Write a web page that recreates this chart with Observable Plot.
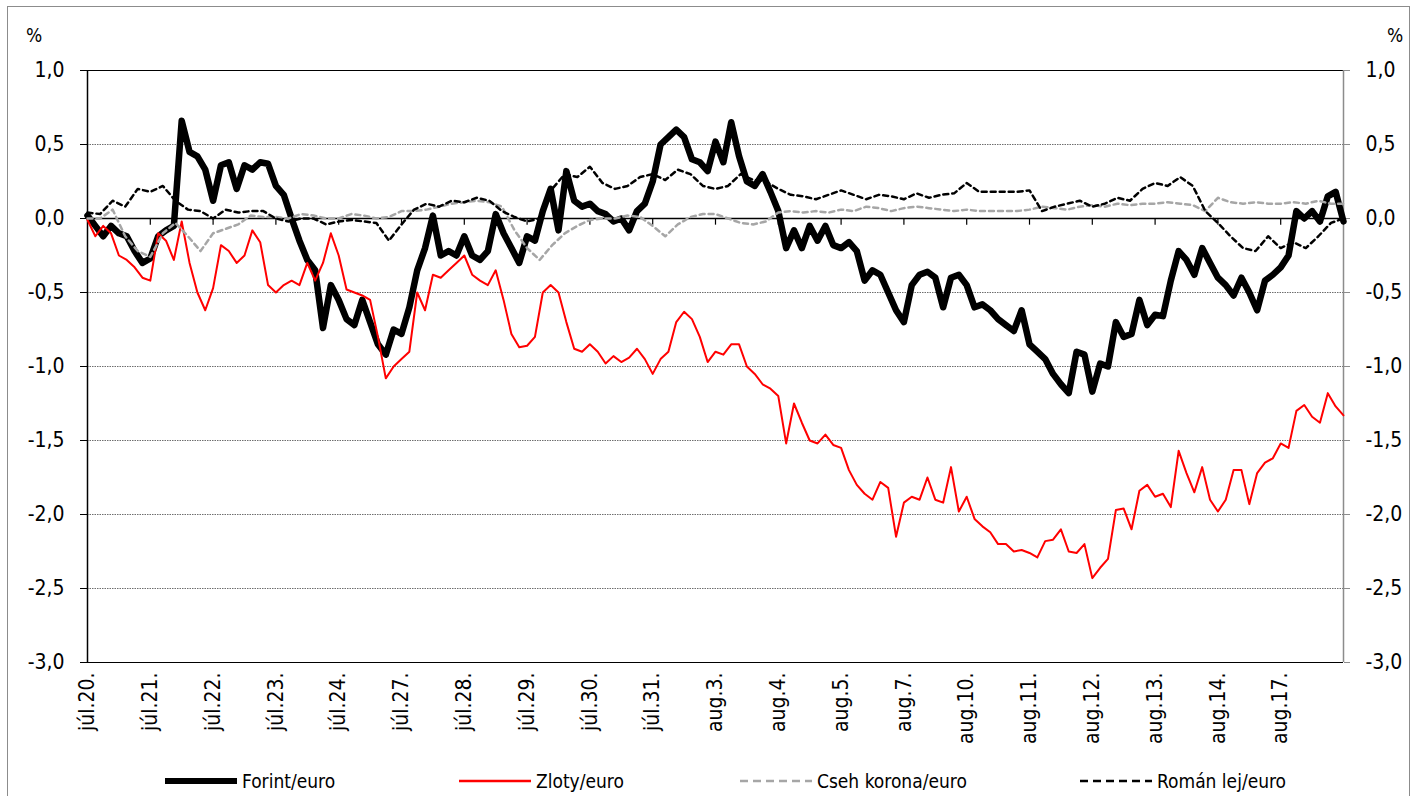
<!DOCTYPE html>
<html>
<head>
<meta charset="utf-8">
<script src="https://cdn.jsdelivr.net/npm/d3@7"></script>
<script src="https://cdn.jsdelivr.net/npm/@observablehq/plot@0.6"></script>
<style>
  html, body { margin: 0; padding: 0; background: #fff; }
  body { width: 1414px; height: 796px; overflow: hidden; position: relative; font-family: "DejaVu Sans Condensed", "DejaVu Sans", sans-serif; }
  #frame { position: absolute; left: 7px; top: 6px; width: 1403px; height: 810px; border: 1.5px solid #8c8c8c; box-sizing: border-box; }
  #chart { position: absolute; left: 0; top: 0; }
  .pct { position: absolute; font-size: 19px; color: #000; }
  #legend { position: absolute; left: 0; top: 765px; width: 1414px; height: 31px; }
  .lg { position: absolute; top: 0; height: 31px; display: flex; align-items: center; font-size: 19px; color: #000; }
  .lg svg { margin-right: 5px; }
</style>
</head>
<body>
<div id="frame"></div>
<div id="chart"></div>
<div class="pct" style="left:26px;top:24px;">%</div>
<div class="pct" style="left:1387px;top:24px;">%</div>
<div id="legend"></div>
<script>
// Day labels (x-axis categories)
const dayLabels = ["júl.20.","júl.21.","júl.22.","júl.23.","júl.24.","júl.27.","júl.28.","júl.29.","júl.30.","júl.31.",
  "aug.3.","aug.4.","aug.5.","aug.7.","aug.10.","aug.11.","aug.12.","aug.13.","aug.14.","aug.17."];

// Series names
const seriesNames = ["Forint/euro", "Zloty/euro", "Cseh korona/euro", "Román lej/euro"];

// Forint/euro, % change (8 readings per day)
const forint = [0.02,-0.05,-0.12,-0.05,-0.1,-0.12,-0.22,-0.3,-0.27,-0.12,-0.08,-0.05,0.66,0.45,0.42,0.33,
  0.12,0.36,0.38,0.2,0.36,0.33,0.38,0.37,0.22,0.16,0.0,-0.15,-0.28,-0.35,-0.74,-0.45,
  -0.55,-0.68,-0.72,-0.55,-0.7,-0.85,-0.92,-0.75,-0.78,-0.6,-0.35,-0.2,0.02,-0.25,-0.22,-0.25,
  -0.12,-0.25,-0.28,-0.22,0.03,-0.1,-0.2,-0.3,-0.12,-0.15,0.05,0.2,-0.08,0.32,0.12,0.08,
  0.1,0.05,0.03,-0.02,0.0,-0.08,0.05,0.1,0.25,0.5,0.55,0.6,0.55,0.4,0.38,0.32,
  0.52,0.38,0.65,0.42,0.25,0.22,0.3,0.18,0.05,-0.2,-0.08,-0.2,-0.05,-0.15,-0.05,-0.18,
  -0.2,-0.16,-0.22,-0.42,-0.35,-0.38,-0.5,-0.62,-0.7,-0.45,-0.38,-0.36,-0.4,-0.6,-0.4,-0.38,
  -0.45,-0.6,-0.58,-0.62,-0.68,-0.72,-0.76,-0.62,-0.85,-0.9,-0.95,-1.05,-1.12,-1.18,-0.9,-0.92,
  -1.17,-0.98,-1.0,-0.7,-0.8,-0.78,-0.55,-0.72,-0.65,-0.66,-0.42,-0.22,-0.28,-0.38,-0.2,-0.3,
  -0.4,-0.45,-0.52,-0.4,-0.5,-0.62,-0.42,-0.38,-0.33,-0.25,0.05,0.0,0.05,-0.02,0.15,0.18,-0.02];

// Zloty/euro, % change (8 readings per day)
const zloty = [-0.01,-0.12,-0.05,-0.1,-0.25,-0.28,-0.33,-0.4,-0.42,-0.1,-0.15,-0.28,-0.02,-0.3,-0.5,-0.62,
  -0.47,-0.18,-0.22,-0.3,-0.25,-0.08,-0.16,-0.45,-0.5,-0.45,-0.42,-0.45,-0.3,-0.42,-0.3,-0.1,
  -0.25,-0.48,-0.5,-0.52,-0.55,-0.8,-1.08,-1.0,-0.95,-0.9,-0.5,-0.62,-0.38,-0.4,-0.35,-0.3,
  -0.25,-0.38,-0.42,-0.45,-0.35,-0.55,-0.78,-0.87,-0.86,-0.8,-0.5,-0.45,-0.5,-0.7,-0.88,-0.9,
  -0.85,-0.9,-0.98,-0.93,-0.97,-0.94,-0.88,-0.95,-1.05,-0.95,-0.9,-0.7,-0.63,-0.68,-0.8,-0.97,
  -0.9,-0.92,-0.85,-0.85,-1.0,-1.05,-1.12,-1.15,-1.2,-1.52,-1.25,-1.38,-1.5,-1.52,-1.46,-1.53,
  -1.55,-1.7,-1.8,-1.86,-1.9,-1.78,-1.82,-2.15,-1.92,-1.88,-1.9,-1.75,-1.9,-1.92,-1.68,-1.98,
  -1.88,-2.03,-2.08,-2.12,-2.2,-2.2,-2.25,-2.24,-2.26,-2.29,-2.18,-2.17,-2.1,-2.25,-2.26,-2.2,
  -2.43,-2.36,-2.3,-1.97,-1.96,-2.1,-1.84,-1.8,-1.88,-1.86,-1.95,-1.57,-1.72,-1.85,-1.68,-1.9,
  -1.98,-1.9,-1.7,-1.7,-1.93,-1.72,-1.65,-1.62,-1.52,-1.55,-1.3,-1.26,-1.34,-1.38,-1.18,-1.27,-1.33];

// Cseh korona/euro, % change (5 readings per day)
const czech = [0.0,0.0,0.06,-0.12,-0.22,-0.26,-0.1,-0.03,-0.12,-0.22,
  -0.1,-0.07,-0.04,0.02,0.01,0.01,0.0,0.03,0.02,0.0,
  0.0,0.03,0.02,0.0,0.01,0.05,0.05,0.06,0.08,0.1,
  0.11,0.12,0.11,0.08,-0.08,-0.2,-0.28,-0.18,-0.1,-0.05,
  -0.01,0.0,0.0,0.02,0.01,-0.05,-0.12,-0.04,0.01,0.03,
  0.03,0.0,-0.03,-0.04,-0.02,0.04,0.05,0.04,0.05,0.04,
  0.06,0.05,0.08,0.07,0.05,0.07,0.08,0.07,0.06,0.05,
  0.06,0.05,0.05,0.05,0.05,0.06,0.08,0.07,0.06,0.08,
  0.09,0.08,0.1,0.09,0.1,0.1,0.11,0.1,0.09,0.05,
  0.14,0.11,0.1,0.11,0.1,0.1,0.11,0.1,0.12,0.1,0.1];

// Román lej/euro, % change (5 readings per day)
const romanian = [0.04,0.03,0.12,0.08,0.2,0.18,0.22,0.12,0.06,0.05,
  0.0,0.06,0.04,0.05,0.05,0.0,-0.02,0.0,0.0,-0.04,
  -0.02,-0.01,-0.02,-0.03,-0.15,-0.04,0.06,0.1,0.08,0.12,
  0.11,0.14,0.12,0.05,0.01,-0.02,0.0,0.2,0.3,0.28,
  0.35,0.24,0.2,0.22,0.28,0.3,0.26,0.33,0.3,0.22,
  0.2,0.22,0.3,0.26,0.25,0.2,0.16,0.15,0.13,0.16,
  0.19,0.16,0.13,0.16,0.15,0.13,0.17,0.14,0.16,0.17,
  0.24,0.18,0.18,0.18,0.18,0.19,0.05,0.08,0.1,0.12,
  0.08,0.1,0.14,0.12,0.2,0.24,0.22,0.28,0.22,0.05,
  -0.03,-0.12,-0.2,-0.22,-0.12,-0.2,-0.16,-0.2,-0.12,-0.03,0.0];

// y tick values
const yTicks = [1, 0.5, 0, -0.5, -1, -1.5, -2, -2.5, -3];

const toRows = (arr, perDay) => arr.map((v, i) => ({t: i / perDay, v}));
const rowsF = toRows(forint, 8);
const rowsZ = toRows(zloty, 8);
const rowsC = toRows(czech, 5);
const rowsR = toRows(romanian, 5);
const dayIdx = dayLabels.map((d, i) => i);
const fmt = d => (d < 0 ? "-" : "") + Math.abs(d).toFixed(1).replace(".", ",");
const FONT = "'DejaVu Sans Condensed', 'DejaVu Sans', sans-serif";

const chart = Plot.plot({
  width: 1414,
  height: 765,
  marginLeft: 87,
  marginRight: 71,
  marginTop: 70,
  marginBottom: 103,
  style: {fontFamily: FONT, background: "transparent", color: "#000", overflow: "visible"},
  x: {domain: [0, dayLabels.length], range: [87, 1343]},
  y: {domain: [-3, 1]},
  marks: [
    Plot.ruleY(yTicks.filter(d => d !== 0 && d !== 1 && d !== -3), {stroke: "#6e6e6e", strokeWidth: 1.2, strokeDasharray: "1.5,1"}),
    Plot.ruleY([1, -3], {stroke: "#000", strokeWidth: 1.2}),
    Plot.ruleX([dayLabels.length], {stroke: "#8c8c8c", strokeWidth: 1.5}),
    Plot.ruleX([0], {stroke: "#000", strokeWidth: 1.5}),
    Plot.ruleY([0], {stroke: "#000", strokeWidth: 1.5}),
    Plot.ruleX(dayIdx.slice(1), {y1: 0, y2: -0.045, stroke: "#000", strokeWidth: 1.2}),
    Plot.axisY({anchor: "left", ticks: yTicks, tickFormat: fmt, tickSize: 7, tickPadding: 16, fontSize: 21, stroke: "#000", label: null}),
    Plot.axisY({anchor: "right", ticks: yTicks, tickFormat: fmt, tickSize: 6, tickPadding: 16, fontSize: 21, stroke: "#8c8c8c", label: null}),
    Plot.axisX({anchor: "bottom", ticks: dayIdx, tickFormat: i => dayLabels[i], tickRotate: -90, tickSize: 0, tickPadding: 10, fontSize: 21, label: null}),
    Plot.line(rowsF, {x: "t", y: "v", stroke: "#000", strokeWidth: 6.5, strokeLinejoin: "round", strokeLinecap: "round"}),
    Plot.line(rowsZ, {x: "t", y: "v", stroke: "#ff0000", strokeWidth: 2}),
    Plot.line(rowsC, {x: "t", y: "v", stroke: "#a6a6a6", strokeWidth: 2.5, strokeDasharray: "5,4"}),
    Plot.line(rowsR, {x: "t", y: "v", stroke: "#000", strokeWidth: 2.5, strokeDasharray: "5,4"})
  ]
});
document.getElementById("chart").appendChild(chart);

// Legend
const legendSpec = [
  {name: seriesNames[0], left: 165, stroke: "#000", width: 6, dash: null},
  {name: seriesNames[1], left: 459, stroke: "#ff0000", width: 2.5, dash: null},
  {name: seriesNames[2], left: 740, stroke: "#a6a6a6", width: 2.5, dash: "8,5"},
  {name: seriesNames[3], left: 1080, stroke: "#000", width: 2.5, dash: "8,5"}
];
const legend = document.getElementById("legend");
for (const s of legendSpec) {
  const item = document.createElement("div");
  item.className = "lg";
  item.style.left = s.left + "px";
  item.innerHTML = `<svg width="72" height="10"><line x1="0" x2="72" y1="5" y2="5" stroke="${s.stroke}" stroke-width="${s.width}" ${s.dash ? `stroke-dasharray="${s.dash}"` : ""}/></svg><span>${s.name}</span>`;
  legend.appendChild(item);
}
</script>
</body>
</html>
